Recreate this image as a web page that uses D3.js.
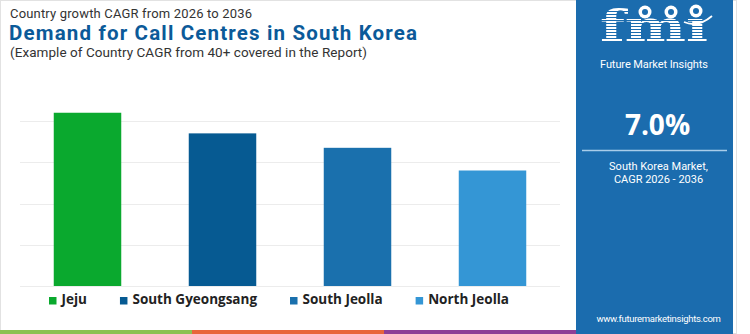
<!DOCTYPE html>
<html>
<head>
<meta charset="utf-8">
<script src="https://cdn.jsdelivr.net/npm/d3@7"></script>
<style>
  html, body { margin: 0; padding: 0; background: #fff; }
  svg { display: block; font-family: "Open Sans", Roboto, sans-serif; }
</style>
</head>
<body>
<svg id="chart" width="750" height="334"></svg>
<script>
// Regional CAGR values (%), 2026-2036
const regions = ["Jeju", "South Gyeongsang", "South Jeolla", "North Jeolla"];
const cagr = [8.4, 7.4, 6.7, 5.6];
const barColors = ["#0aa92e", "#065a92", "#1a70ad", "#3496d5"];
const gridTicks = [0, 2, 4, 6, 8];
const stripColors = ["#8cc152", "#e8653a", "#8e3f96"];

const headline = "7.0%";
const headlineCaption = ["South Korea Market,", "CAGR 2026 - 2036"];

const svg = d3.select("#chart");
const W = 750, H = 334;

// outer frame
svg.append("rect").attr("x", 0.5).attr("y", 0.5).attr("width", 736).attr("height", H - 1)
  .attr("fill", "#fff").attr("stroke", "#e2e2e2");

// titles
const titles = svg.append("g").attr("font-family", "Roboto, sans-serif");
titles.append("text").attr("x", 10).attr("y", 17.5).attr("font-size", 13).attr("fill", "#333")
  .attr("textLength", 242).attr("lengthAdjust", "spacing")
  .text("Country growth CAGR from 2026 to 2036");
titles.append("text").attr("x", 9).attr("y", 40).attr("font-size", 20.5).attr("font-weight", 700)
  .attr("fill", "#0b5a99").attr("textLength", 408).attr("lengthAdjust", "spacing")
  .text("Demand for Call Centres in South Korea");
titles.append("text").attr("x", 10).attr("y", 56.5).attr("font-size", 13.5).attr("fill", "#333")
  .attr("textLength", 357).attr("lengthAdjust", "spacing")
  .text("(Example of Country CAGR from 40+ covered in the Report)");

// scales
const x = d3.scaleBand().domain(regions).range([20, 560]).paddingInner(0.5).paddingOuter(0.25);
const y = d3.scaleLinear().domain([0, 8]).range([286, 121]);

// gridlines
svg.append("g").selectAll("line").data(gridTicks).join("line")
  .attr("x1", 20).attr("x2", 560)
  .attr("y1", d => Math.round(y(d)) + 0.5).attr("y2", d => Math.round(y(d)) + 0.5)
  .attr("stroke", "#ececec").attr("stroke-width", 1);

// bars
svg.append("g").selectAll("rect").data(regions).join("rect")
  .attr("x", d => x(d)).attr("width", x.bandwidth())
  .attr("y", (d, i) => y(cagr[i])).attr("height", (d, i) => y(0) - y(cagr[i]))
  .attr("fill", (d, i) => barColors[i]);

// legend
const legend = svg.append("g").attr("font-size", 13.5).attr("font-weight", 700).attr("fill", "#222");
let lx = 49;
regions.forEach((r, i) => {
  legend.append("rect").attr("x", lx).attr("y", 297).attr("width", 7.5).attr("height", 7.5)
    .attr("fill", barColors[i]);
  const t = legend.append("text").attr("x", lx + 12.5).attr("y", 304).text(r);
  lx += 12.5 + t.node().getComputedTextLength() + 33;
});

// bottom colour strip
const sx = d3.scaleBand().domain(d3.range(stripColors.length)).range([0, 576]);
svg.append("g").selectAll("rect").data(stripColors).join("rect")
  .attr("x", (d, i) => sx(i)).attr("width", sx.bandwidth())
  .attr("y", 330).attr("height", 4).attr("fill", d => d);

// side panel
const panelBlue = "#1b6cae";
const px0 = 576, px1 = 733, pcx = (px0 + px1) / 2;
svg.append("rect").attr("x", px0).attr("y", 0).attr("width", px1 - px0).attr("height", H)
  .attr("fill", panelBlue);

// logo: striped "fmi" wordmark, scaled to its slot
const logo = svg.append("g");
const word = logo.append("text").attr("x", 0).attr("y", 0).attr("font-size", 43)
  .attr("font-weight", 700).attr("font-family", "DejaVu Serif, serif").attr("fill", "#fff")
  .text("fm\u0131");
const bb = word.node().getBBox();
const sxw = 108 / bb.width;
word.attr("transform", `translate(${600 - bb.x * sxw},41) scale(${sxw},1)`);
logo.selectAll("line.stripe").data(d3.range(11, 42, 3)).join("line")
  .attr("x1", 596).attr("x2", 712).attr("y1", d => d + 0.5).attr("y2", d => d + 0.5)
  .attr("stroke", panelBlue).attr("stroke-width", 1);
// globe icons above the wordmark
[[645, 12], [671, 12], [696, 11]].forEach(([cx, cy]) => {
  logo.append("circle").attr("cx", cx).attr("cy", cy).attr("r", 6.5).attr("fill", "#fff");
  logo.append("circle").attr("cx", cx).attr("cy", cy).attr("r", 3).attr("fill", panelBlue);
});
logo.append("path").attr("d", "M684,22 Q698,28 712,16").attr("fill", "none")
  .attr("stroke", "#fff").attr("stroke-width", 1.8);
logo.append("text").attr("x", 600).attr("y", 68).attr("font-size", 11).attr("fill", "#fff")
  .attr("font-family", "Roboto, sans-serif")
  .attr("textLength", 108).attr("lengthAdjust", "spacing").text("Future Market Insights");

// headline figure
svg.append("text").attr("x", pcx + 3).attr("y", 135).attr("text-anchor", "middle")
  .attr("font-size", 28).attr("font-weight", 700).attr("fill", "#fff").text(headline);
svg.append("line").attr("x1", 582).attr("x2", 727).attr("y1", 150.5).attr("y2", 150.5)
  .attr("stroke", "#a9cdea").attr("stroke-width", 1.5);
svg.append("g").attr("font-family", "Roboto, sans-serif").selectAll("text")
  .data(headlineCaption).join("text")
  .attr("x", pcx + 4).attr("y", (d, i) => 170 + i * 12.5).attr("text-anchor", "middle")
  .attr("font-size", 11).attr("fill", "#fff").text(d => d);
svg.append("text").attr("x", pcx + 4).attr("y", 322).attr("text-anchor", "middle")
  .attr("font-family", "Roboto, sans-serif")
  .attr("font-size", 9.5).attr("fill", "#fff").attr("letter-spacing", -0.3)
  .text("www.futuremarketinsights.com");
</script>
</body>
</html>
